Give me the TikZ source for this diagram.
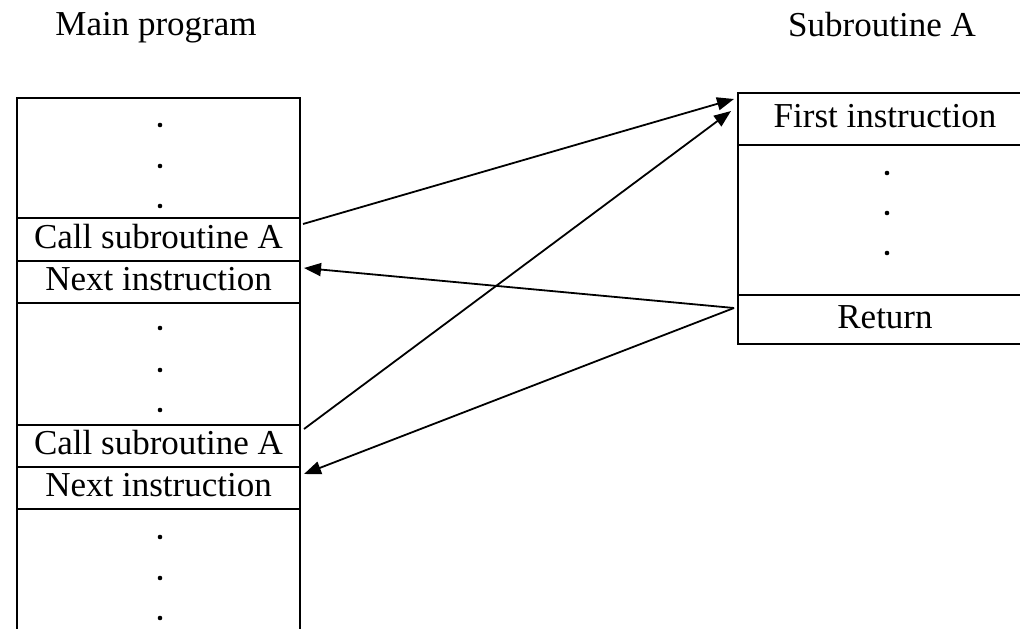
\documentclass[tikz,border=0pt]{standalone}
\usepackage{fontspec}
\setmainfont{Liberation Serif}
\usetikzlibrary{arrows.meta,calc}

\tikzset{
  cell/.style={draw, line width=2pt, inner sep=0pt, anchor=center,
    text height=24.5pt, text depth=7pt},
  lcell/.style={cell, minimum width=283pt},
  rcell/.style={cell, minimum width=294pt},
  title/.style={anchor=base, inner sep=0pt},
  flow/.style={line width=1.8pt, -{Triangle[length=17pt,width=13pt]}},
  dot/.style={fill=black}
}

\begin{document}
\begin{tikzpicture}[x=1pt, y=-1pt, font=\fontsize{35}{40}\selectfont]
  \useasboundingbox (0,0) rectangle (1020,629);
  \clip (0,0) rectangle (1020,629);

  % headings
  \node[title] (maintitle) at (156,35) {Main program};
  \node[title] (subtitle) at (882,36) {Subroutine A};

  % main program memory column
  \node[lcell, minimum height=120pt] (ltop)  at (158.5,158)   {};
  \node[lcell, minimum height=43pt]  (call1) at (158.5,239.5) {Call subroutine A};
  \node[lcell, minimum height=42pt]  (next1) at (158.5,282)   {Next instruction};
  \node[lcell, minimum height=122pt] (lmid)  at (158.5,364)   {};
  \node[lcell, minimum height=42pt]  (call2) at (158.5,446)   {Call subroutine A};
  \node[lcell, minimum height=42pt]  (next2) at (158.5,488)   {Next instruction};
  \node[lcell, minimum height=131pt] (lbot)  at (158.5,574.5) {};

  % subroutine column
  \node[rcell, minimum height=52pt]  (first) at (885,119)   {First instruction};
  \node[rcell, minimum height=150pt] (rmid)  at (885,220)   {};
  \node[rcell, minimum height=49pt]  (ret)   at (885,319.5) {Return};

  % ellipsis dots
  \foreach \y in {125,166,206,328,370,410,537,578,618}
    \fill[dot] (160,\y) circle (2.3pt);
  \foreach \y in {173,213,253}
    \fill[dot] (887,\y) circle (2.3pt);

  % calls into the subroutine
  \draw[flow] ($(call1.north east)+(2,7)$) -- ($(first.north west)+(-3,7)$);
  \draw[flow] ($(call2.north east)+(3,5)$) -- ($(first.north west)+(-6,19)$);

  % returns to the instruction after each call
  \draw[flow] ($(ret.north west)+(-3,14)$) -- ($(next1.north east)+(3,8)$);
  \draw[flow] ($(ret.north west)+(-3,14)$) -- ($(next2.north east)+(3,8)$);
\end{tikzpicture}
\end{document}
